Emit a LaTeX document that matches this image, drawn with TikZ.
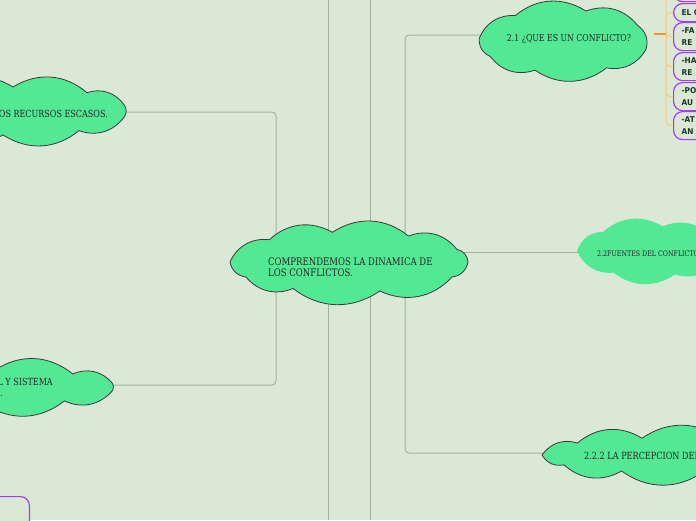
\documentclass[tikz,border=0pt]{standalone}
\usepackage{fontspec}
\setmainfont{DejaVu Serif}[FakeStretch=0.82]
\newfontfamily\boxfont{DejaVu Sans}[FakeStretch=0.92]
\definecolor{bg}{HTML}{DCE8D6}
\definecolor{cloudfill}{HTML}{52E894}
\definecolor{cloudline}{HTML}{3A3A3A}
\definecolor{connc}{HTML}{A3B3A3}
\definecolor{purp}{HTML}{A43CF0}
\definecolor{orng}{HTML}{F5961E}
\definecolor{lorng}{HTML}{F6CB84}
\definecolor{txt}{HTML}{262626}
\definecolor{boxtxt}{HTML}{163A2A}
% #1 style, #2 cx, #3 cy, #4 a, #5 b, #6 start angle, #7 following angles (last = start+360)
\newcommand{\drawcloud}[7]{%
  \path[#1] ({#2+(#4)*cos(#6)},{#3+(#5)*sin(#6)})
    \foreach \t in {#7} { to[bend left=36] ({#2+(#4)*cos(\t)},{#3+(#5)*sin(\t)}) } -- cycle;}
\tikzset{
  cloudstyle/.style={fill=cloudfill, draw=cloudline, line width=0.8pt},
  cloudnoline/.style={fill=cloudfill},
  cloudanchor/.style={inner sep=0pt, outer sep=0pt},
  connline/.style={draw=connc, line width=1pt, rounded corners=4pt},
  pbox/.style={draw=purp, line width=1.2pt, rounded corners=9pt, fill=bg,
    anchor=north west, minimum width=70pt, text width=54pt, align=left,
    inner xsep=8pt, inner ysep=0pt, text=boxtxt,
    font=\boxfont\bfseries\fontsize{8}{12.5}\selectfont},
  ctext/.style={text=txt, inner sep=0pt, align=left},
  obranch/.style={draw=lorng, line width=1pt, rounded corners=5pt},
}
\begin{document}
\begin{tikzpicture}[x=1pt,y=-1pt]
\fill[bg] (0,0) rectangle (696,520);
\useasboundingbox (0,0) rectangle (696,520);

% structural vertical lines
\coordinate (va1) at (328,0); \coordinate (va2) at (328,520);
\coordinate (vb1) at (370,0); \coordinate (vb2) at (370,520);
\draw[connline] (va1) -- (va2);
\draw[connline] (vb1) -- (vb2);

% named cloud areas
\node[cloudanchor, minimum width=250pt, minimum height=80pt] (c) at (349,262) {};
\node[cloudanchor, minimum width=184pt, minimum height=82pt] (t21) at (564,41) {};
\node[cloudanchor, minimum width=160pt, minimum height=66pt] (t22) at (650,251) {};
\node[cloudanchor, minimum width=250pt, minimum height=50pt] (t222) at (665,455) {};
\node[cloudanchor, minimum width=240pt, minimum height=65pt] (lt) at (13,111) {};
\node[cloudanchor, minimum width=250pt, minimum height=50pt] (lb) at (-5,387) {};

% junction coordinates
\coordinate (jl) at (276,262);
\coordinate (jr) at (405,262);
\coordinate (ltin) at (110,112);
\coordinate (lbin) at (100,385);
\coordinate (t21in) at (490,35);
\coordinate (t22in) at (600,252);
\coordinate (t222in) at (570,453);
\coordinate (oj) at (666,34);

\draw[connline] (c.center) -- (jl);
\draw[connline] (c.center) -- (jr);
\draw[connline] (jl) |- (ltin);
\draw[connline] (jl) |- (lbin);
\draw[connline] (jr) |- (t21in);
\draw[connline] (jr) |- (t222in);
\draw[connline] (c.center |- t22in) -- (t22in);

% clouds
\drawcloud{cloudstyle}{349}{262}{119}{30}{180}{228,262,300,335,360,30,75,118,150,540}
\node[ctext, anchor=west, font=\fontsize{10.4}{10.6}\selectfont] (ct) at (268,267)
  {COMPRENDEMOS LA DINAMICA DE\\LOS CONFLICTOS.};

\drawcloud{cloudstyle}{564}{41}{85}{31}{185}{235,285,330,15,60,110,150,545}
\node[ctext, font=\fontsize{9.5}{10}\selectfont] (t21t) at (569,39) {2.1 ¿QUE ES UN CONFLICTO?};

\drawcloud{cloudnoline}{650}{251}{73}{25}{180}{230,280,330,20,70,120,540}
\node[ctext, anchor=west, font=\fontsize{7.7}{9}\selectfont] (t22t) at (597,254) {2.2FUENTES DEL CONFLICTO};

\drawcloud{cloudstyle}{663}{455}{121}{17}{180}{225,260,300,340,20,70,110,145,540}
\node[ctext, anchor=west, font=\fontsize{9.9}{10}\selectfont] (t222t) at (584,456) {2.2.2 LA PERCEPCION DEL};

\drawcloud{cloudstyle}{13}{111}{115}{24}{180}{230,270,310,345,15,55,95,135,540}
\node[ctext, anchor=east, font=\fontsize{9.8}{10}\selectfont] (ltt) at (108,114) {LOS RECURSOS ESCASOS.};

\drawcloud{cloudstyle}{-5}{387}{121}{17}{180}{230,270,310,345,15,55,95,135,540}
\node[ctext, anchor=east, font=\fontsize{9.8}{10}\selectfont] (lbt1) at (53,382) {L Y SISTEMA};
\node[ctext, anchor=east, font=\fontsize{9.8}{10}\selectfont] (lbt2) at (3,393) {L.};

% bottom-left purple box
\node[pbox, anchor=north east, minimum width=90pt, minimum height=50pt, text width=70pt] (bl) at (30,496) {};

% right boxes
\node[pbox, minimum height=27pt] (b0) at (673,-26) {};
\node[pbox, minimum height=18pt] (b1) at (673,3) {EL CO};
\node[pbox, minimum height=28pt] (b2) at (673,22) {-FA\\RE};
\node[pbox, minimum height=28pt] (b3) at (673,52) {-HA\\RE};
\node[pbox, minimum height=28pt] (b4) at (673,82) {-PO\\AU};
\node[pbox, minimum height=28pt] (b5) at (673,111) {-AT\\AN};

\draw[obranch] (oj) |- (b0.west);
\draw[obranch] (oj) |- (b1.west);
\draw[obranch] (oj) |- (b2.west);
\draw[obranch] (oj) |- (b3.west);
\draw[obranch] (oj) |- (b4.west);
\draw[obranch] (oj) |- (b5.west);
\coordinate (os) at (654,34);
\draw[orng, line width=1.6pt] (os) -- (oj);
\end{tikzpicture}
\end{document}
